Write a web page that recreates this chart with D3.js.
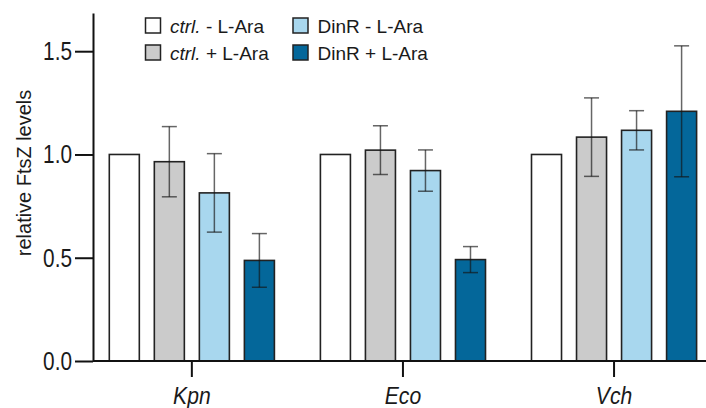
<!DOCTYPE html>
<html>
<head>
<meta charset="utf-8">
<script src="https://cdn.jsdelivr.net/npm/d3@7"></script>
<style>
  body { margin: 0; background: #fff; }
  text { font-family: "Liberation Sans", Arial, sans-serif; fill: #1a1a1a; }
</style>
</head>
<body>
<div id="chart"></div>
<script>
const width = 706,
  height = 408;

// groupes (espèces) et séries
var groups = ["Kpn", "Eco", "Vch"];
var seriesKeys = ["ctrlMinus", "ctrlPlus", "dinrMinus", "dinrPlus"];
var seriesColors = ["#ffffff", "#cbcbcb", "#a8d7ee", "#04679a"];

// valeurs moyennes par série (dans l'ordre des groupes)
var ctrlMinus = [1.0, 1.0, 1.0];
var ctrlPlus = [0.965, 1.021, 1.084];
var dinrMinus = [0.814, 0.922, 1.117];
var dinrPlus = [0.487, 0.491, 1.209];

// barres d'erreur (+/-)
var ctrlMinusErr = [0, 0, 0];
var ctrlPlusErr = [0.17, 0.118, 0.19];
var dinrMinusErr = [0.19, 0.10, 0.095];
var dinrPlusErr = [0.13, 0.063, 0.317];

var yTicks = [0, 0.5, 1.0, 1.5];

var means = [ctrlMinus, ctrlPlus, dinrMinus, dinrPlus];
var errs = [ctrlMinusErr, ctrlPlusErr, dinrMinusErr, dinrPlusErr];

// table à plat pour le join
var data = [];
groups.forEach(function (g, gi) {
  seriesKeys.forEach(function (k, si) {
    data.push({ group: g, key: k, i: si, value: means[si][gi], err: errs[si][gi] });
  });
});

// police "condensée" : pas de Arial Narrow ici, on resserre le texte
function condense(sel, factor) {
  sel.each(function () {
    var w = this.getComputedTextLength();
    d3.select(this)
      .attr("textLength", w * factor)
      .attr("lengthAdjust", "spacingAndGlyphs");
  });
}

var svg = d3
  .select("#chart")
  .append("svg")
  .attr("width", width)
  .attr("height", height);

var y = d3.scaleLinear().domain([0, 1.685]).range([361, 13]);

var x0 = d3.scaleBand().domain(groups).range([86.3, 719.6]);

var x1 = d3.scaleBand()
  .domain(seriesKeys)
  .range([23, x0.bandwidth() - 23])
  .paddingInner(1 / 3);

var color = d3.scaleOrdinal().domain(seriesKeys).range(seriesColors);

// barres
svg.append("g")
  .selectAll("rect")
  .data(data)
  .join("rect")
  .attr("x", (d) => x0(d.group) + x1(d.key))
  .attr("y", (d) => y(d.value))
  .attr("width", x1.bandwidth())
  .attr("height", (d) => y(0) - y(d.value))
  .style("fill", (d) => color(d.key))
  .style("stroke", "#222")
  .style("stroke-width", "1.6px");

// barres d'erreur
var eb = svg.append("g")
  .selectAll("g")
  .data(data.filter((d) => d.err > 0))
  .join("g")
  .style("stroke", "rgba(20,20,20,0.65)")
  .style("stroke-width", "1.5px");

eb.append("line")
  .attr("x1", (d) => x0(d.group) + x1(d.key) + x1.bandwidth() / 2)
  .attr("x2", (d) => x0(d.group) + x1(d.key) + x1.bandwidth() / 2)
  .attr("y1", (d) => y(d.value + d.err))
  .attr("y2", (d) => y(d.value - d.err));

eb.selectAll(".cap")
  .data((d) => [d.value + d.err, d.value - d.err].map((v) => ({ d: d, v: v })))
  .join("line")
  .attr("class", "cap")
  .attr("x1", (c) => x0(c.d.group) + x1(c.d.key) + x1.bandwidth() / 2 - 7.5)
  .attr("x2", (c) => x0(c.d.group) + x1(c.d.key) + x1.bandwidth() / 2 + 7.5)
  .attr("y1", (c) => y(c.v))
  .attr("y2", (c) => y(c.v));

// axe y
var yAxis = svg.append("g")
  .attr("transform", "translate(93,0)")
  .call(d3.axisLeft(y)
    .tickValues(yTicks)
    .tickFormat(d3.format(".1f"))
    .tickSize(18)
    .tickSizeOuter(0)
    .tickPadding(3));

yAxis.selectAll("path, line").style("stroke", "#111").style("stroke-width", "2px");
yAxis.selectAll("text")
  .style("font-size", "26px")
  .style("font-family", "'Liberation Sans', Arial, sans-serif")
  .style("fill", "#1a1a1a")
  .call(condense, 0.8);

// axe x
svg.append("line")
  .attr("x1", 93)
  .attr("x2", width)
  .attr("y1", y(0))
  .attr("y2", y(0))
  .style("stroke", "#111")
  .style("stroke-width", "2px");

var xTicks = svg.append("g")
  .selectAll("g")
  .data(groups)
  .join("g")
  .attr("transform", (d) => "translate(" + (x0(d) + x0.bandwidth() / 2) + ",0)");

xTicks.append("line")
  .attr("y1", y(0))
  .attr("y2", y(0) + 16)
  .style("stroke", "#111")
  .style("stroke-width", "2px");

xTicks.append("text")
  .attr("y", 404)
  .attr("text-anchor", "middle")
  .style("font-size", "24px")
  .style("font-style", "italic")
  .text((d) => d)
  .call(condense, 0.88);

// titre axe y
svg.append("text")
  .attr("transform", "translate(31,173) rotate(-90)")
  .attr("text-anchor", "middle")
  .style("font-size", "21px")
  .text("relative FtsZ levels")
  .call(condense, 0.95);

// légende
var legendItems = [
  { key: "ctrlMinus", it: "ctrl.", rest: " - L-Ara", col: 0, row: 0 },
  { key: "ctrlPlus", it: "ctrl.", rest: " + L-Ara", col: 0, row: 1 },
  { key: "dinrMinus", it: "", rest: "DinR - L-Ara", col: 1, row: 0 },
  { key: "dinrPlus", it: "", rest: "DinR + L-Ara", col: 1, row: 1 }
];

var legend = svg.append("g")
  .selectAll("g")
  .data(legendItems)
  .join("g")
  .attr("transform", (d) => "translate(" + (145.5 + d.col * 147.5) + "," + (18 + d.row * 27) + ")");

legend.append("rect")
  .attr("width", 15)
  .attr("height", 15)
  .style("fill", (d) => color(d.key))
  .style("stroke", "#222")
  .style("stroke-width", "1.5px");

var lt = legend.append("text")
  .attr("x", 24.5)
  .attr("y", 14.5)
  .style("font-size", "19px");

lt.append("tspan").style("font-style", "italic").text((d) => d.it);
lt.append("tspan").text((d) => d.rest);
</script>
</body>
</html>
